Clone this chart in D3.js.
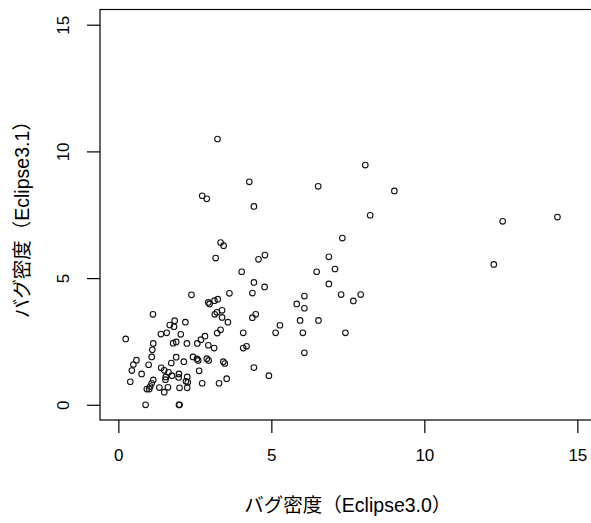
<!DOCTYPE html>
<html>
<head>
<meta charset="utf-8">
<script src="https://cdn.jsdelivr.net/npm/d3@7"></script>
<style>
  body { margin: 0; background: #fff; }
  text { font-family: "Liberation Sans", Arial, "Noto Sans CJK JP", sans-serif; fill: #000; }
</style>
</head>
<body>
<div id="chart"></div>
<script>
// bug density, Eclipse 3.0 (x) vs Eclipse 3.1 (y)
const density30 = [
  3.24, 8.07, 4.28, 6.53, 9.02, 2.74, 2.89, 4.43, 8.23, 14.35, 12.56, 7.32, 3.34, 3.44, 3.18,
  4.58, 4.79, 6.88, 12.27, 7.08, 4.03, 6.48, 4.43, 6.88, 4.78, 2.39, 3.63, 4.38, 6.08, 7.28,
  7.92, 5.83, 6.08, 7.68, 2.94, 2.98, 3.14, 3.25, 1.13, 3.15, 3.22, 3.39, 3.39, 3.58, 4.38,
  4.49, 1.84, 1.68, 1.82, 2.19, 5.94, 6.54, 5.28, 5.14, 6.03, 7.42, 3.34, 3.23, 4.08, 6.08,
  4.92, 0.24, 1.39, 1.58, 2.04, 1.14, 1.11, 1.09, 1.79, 1.89, 2.24, 2.58, 2.70, 2.83, 2.94,
  3.13, 4.08, 4.19, 0.59, 0.49, 0.99, 0.44, 0.76, 0.39, 1.89, 1.73, 2.14, 2.44, 2.57, 2.61,
  2.89, 2.95, 3.43, 3.48, 4.43, 1.40, 1.50, 1.64, 1.75, 1.98, 1.97, 2.25, 1.55, 1.54, 2.21,
  2.27, 2.64, 2.74, 3.29, 3.54, 1.14, 1.09, 1.04, 0.93, 1.01, 1.34, 1.50, 1.62, 2.00, 2.25,
  0.89, 1.98, 2.00
];
const density31 = [
  10.49, 9.46, 8.80, 8.62, 8.44, 8.25, 8.13, 7.83, 7.48, 7.41, 7.24, 6.58, 6.40, 6.28, 5.79,
  5.74, 5.91, 5.84, 5.54, 5.36, 5.25, 5.25, 4.83, 4.77, 4.65, 4.34, 4.40, 4.41, 4.29, 4.35,
  4.35, 3.98, 3.81, 4.10, 4.04, 3.98, 4.11, 4.17, 3.57, 3.57, 3.65, 3.73, 3.45, 3.26, 3.44,
  3.57, 3.32, 3.15, 3.08, 3.26, 3.33, 3.33, 3.14, 2.84, 2.84, 2.84, 2.96, 2.83, 2.84, 2.05,
  1.15, 2.60, 2.79, 2.84, 2.78, 2.42, 2.17, 1.89, 2.43, 2.48, 2.42, 2.42, 2.57, 2.71, 2.35,
  2.24, 2.24, 2.31, 1.76, 1.59, 1.58, 1.35, 1.22, 0.91, 1.88, 1.65, 1.70, 1.89, 1.81, 1.75,
  1.82, 1.75, 1.70, 1.63, 1.47, 1.46, 1.36, 1.28, 1.15, 1.22, 1.08, 1.10, 1.10, 0.99, 0.93,
  0.89, 1.34, 0.85, 0.85, 1.03, 0.98, 0.85, 0.72, 0.62, 0.62, 0.68, 0.50, 0.69, 0.67, 0.67,
  0.00, 0.00, 0.00
];
const xTicks = [0, 5, 10, 15];
const yTicks = [0, 5, 10, 15];
const xTitle = "バグ密度（Eclipse3.0）";
const yTitle = "バグ密度（Eclipse3.1）";

const width = 591, height = 523;
const box = { left: 100, right: 595.7, top: 9.5, bottom: 420 };

const svg = d3.select("#chart").append("svg")
    .attr("width", width)
    .attr("height", height);

// R-style limits: 0..15 padded by 4%
const x = d3.scaleLinear().domain([-0.6, 15.6]).range([box.left, box.right]);
const y = d3.scaleLinear().domain([-0.6, 15.6]).range([box.bottom, box.top]);

const xAxis = svg.append("g")
    .attr("transform", `translate(0,${box.bottom})`)
    .call(d3.axisBottom(x).tickValues(xTicks).tickSize(13).tickPadding(16).tickFormat(d3.format("d")));
const yAxis = svg.append("g")
    .attr("transform", `translate(${box.left},0)`)
    .call(d3.axisLeft(y).tickValues(yTicks).tickSize(13).tickPadding(0).tickFormat(d3.format("d")));

[xAxis, yAxis].forEach(g => {
  g.select(".domain").remove();
  g.selectAll(".tick line").attr("stroke", "#000").attr("stroke-width", 1.2);
  g.selectAll(".tick text").attr("font-size", 17).attr("fill", "#000");
});

yAxis.selectAll(".tick text")
    .attr("text-anchor", "middle")
    .attr("x", 0)
    .attr("dy", 0)
    .attr("transform", "translate(-31,0) rotate(-90)");

svg.append("rect")
    .attr("x", box.left)
    .attr("y", box.top)
    .attr("width", box.right - box.left)
    .attr("height", box.bottom - box.top)
    .attr("fill", "none")
    .attr("stroke", "#000")
    .attr("stroke-width", 1.2);

svg.append("g")
    .selectAll("circle")
    .data(density30.map((d, i) => [d, density31[i]]))
    .join("circle")
    .attr("cx", d => x(d[0]))
    .attr("cy", d => y(d[1]))
    .attr("r", 2.8)
    .attr("fill", "none")
    .attr("stroke", "#111")
    .attr("stroke-width", 1.1);

svg.append("text")
    .attr("x", (box.left + box.right) / 2)
    .attr("y", 512)
    .attr("text-anchor", "middle")
    .attr("font-size", 19.5)
    .text(xTitle);

svg.append("text")
    .attr("transform", `translate(29,${(box.top + box.bottom) / 2}) rotate(-90)`)
    .attr("text-anchor", "middle")
    .attr("font-size", 19.5)
    .text(yTitle);
</script>
</body>
</html>
